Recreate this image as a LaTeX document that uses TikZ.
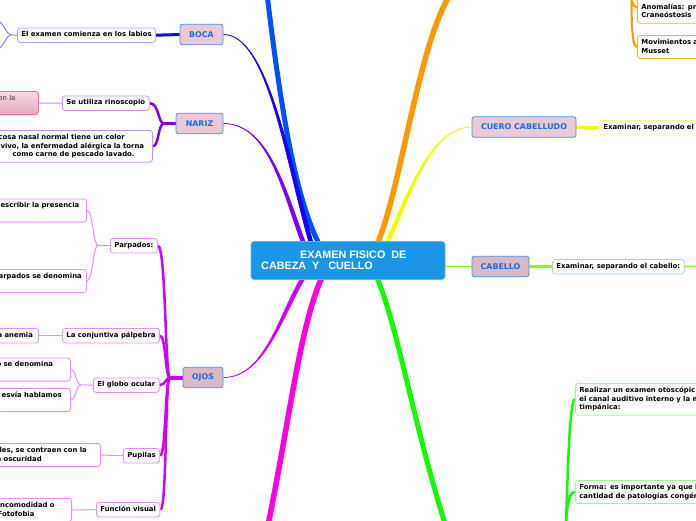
\documentclass[tikz,border=0pt]{standalone}
\usepackage{fontspec}
\newfontfamily\dejavu{DejaVu Sans}
\newfontfamily\libsans{Liberation Sans}
\usetikzlibrary{calc}
\pgfdeclarelayer{bg}
\pgfsetlayers{bg,main}
\definecolor{cRoot}{RGB}{27,149,230}
\definecolor{cPinkA}{RGB}{234,201,214}
\definecolor{cPinkB}{RGB}{219,185,196}
\definecolor{cMainBorder}{RGB}{74,144,226}
\definecolor{cMainText}{RGB}{26,110,224}
\definecolor{cBoca}{RGB}{24,0,255}
\definecolor{cBlueB}{RGB}{0,80,255}
\definecolor{cNariz}{RGB}{122,0,255}
\definecolor{cOjos}{RGB}{204,0,255}
\definecolor{cMag}{RGB}{255,0,221}
\definecolor{cGreen}{RGB}{20,250,0}
\definecolor{cOrange}{RGB}{255,153,0}
\definecolor{cYellow}{RGB}{240,255,0}
\definecolor{cLime}{RGB}{128,255,32}
\definecolor{cBocaL}{RGB}{176,160,255}
\definecolor{cNarizL}{RGB}{200,140,255}
\definecolor{cOjosL}{RGB}{232,140,255}
\definecolor{cYellowL}{RGB}{255,255,140}
\definecolor{cCabL}{RGB}{168,200,248}
\definecolor{cOrangeL}{RGB}{255,176,48}
\definecolor{cGreenL}{RGB}{150,255,150}
\definecolor{cPinkBorder}{RGB}{240,110,150}
\definecolor{cPinkTop}{RGB}{248,216,228}
\definecolor{cPinkBot}{RGB}{228,168,190}
\newcommand{\mmtaper}[6]{%
  \fill[#1, draw=#1, line width=0.8pt] #2 .. controls #3 and ($#4+(-#6,0)$) .. ($#5+(-#6,0)$) -- ($#5+(#6,0)$) .. controls ($#4+(#6,0)$) and #3 .. #2 -- cycle;}
\tikzset{
  mainbox/.style={draw=cMainBorder, line width=0.8pt, rounded corners=2.5pt, fill=cPinkA,
    text=cMainText, font=\dejavu\bfseries\fontsize{7.9}{9.5}\selectfont,
    minimum height=20.5pt, inner sep=0pt},
  smallbox/.style={rounded corners=3pt, fill=white, line width=0.8pt,
    font=\dejavu\bfseries\fontsize{6.9}{8.6}\selectfont, inner xsep=4pt, inner ysep=3pt,
    execute at begin node=\strut, execute at end node=\strut},
  roottext/.style={text=white, font=\libsans\bfseries\fontsize{10.8}{12}\selectfont, inner sep=0pt},
  thinlink/.style={line width=1pt},
}
\begin{document}
\begin{tikzpicture}[x=1pt,y=-1pt]
\useasboundingbox (0,0) rectangle (696,520);
% central node
\node[fill=cRoot, draw=cRoot!70!white, line width=0.6pt, rounded corners=3pt,
  minimum width=194pt, minimum height=38pt, inner sep=0pt] (root) at (348,260.5) {};
\node[roottext, anchor=base west] (rootA) at (300,258) {EXAMEN FISICO\ \ DE};
\node[roottext, anchor=base west] (rootB) at (261,269) {CABEZA\ \ Y\ \ \ CUELLO};
% main topics
\node[mainbox, minimum width=43pt] (boca) at (201.5,34.5) {BOCA};
\node[mainbox, minimum width=47pt] (nariz) at (199.5,123.5) {NARIZ};
\node[mainbox, minimum width=40pt, fill=cPinkB] (ojos) at (203,377.5) {OJOS};
\node[mainbox, minimum width=104pt] (cuero) at (524,127) {CUERO CABELLUDO};
\node[mainbox, minimum width=57pt, fill=cPinkB] (cabello) at (500.5,266.5) {CABELLO};
% BOCA
\node[smallbox, draw=cBocaL, anchor=north west] (boca1) at (17,27.5) {El examen comienza en los labios};
% NARIZ
\node[smallbox, draw=cNarizL, anchor=north west] (nar1) at (62,95.5) {Se utiliza rinoscopio};
\node[smallbox, draw=cPinkBorder, top color=cPinkTop, bottom color=cPinkBot, anchor=north east,
  text width=40pt, align=left, font=\dejavu\fontsize{6.9}{8.6}\selectfont, text=black!80] (nar0) at (39,91) {con la\\\mbox{}};
\node[smallbox, draw=cNarizL, anchor=north east, text width=150pt, align=left] (nar2) at (153,130)
  {\mbox{cosa nasal normal tiene un color}\\\mbox{\hspace*{2pt}vivo, la enfermedad alérgica la torna}\\\mbox{\hspace*{14pt}como carne de pescado lavado.}};
% OJOS
\node[smallbox, draw=cOjosL, anchor=north west] (parp) at (110,238) {Parpados:};
\node[smallbox, draw=cOjosL, anchor=north east, text width=87pt, align=left] (parp1) at (87,198.5) {describir la presencia\\\mbox{}};
\node[smallbox, draw=cOjosL, anchor=north east, text width=84pt, align=left] (parp2) at (87,269) {arpados se denomina\\\mbox{}};
\node[smallbox, draw=cOjosL, anchor=north west] (conj) at (62,328) {La conjuntiva pálpebra};
\node[smallbox, draw=cOjosL, anchor=north east, text width=37pt, align=left] (conj1) at (39,328) {a anemia};
\node[smallbox, draw=cOjosL, anchor=north west] (globo) at (93,377.5) {El globo ocular};
\node[smallbox, draw=cOjosL, anchor=north east, text width=70pt, align=left] (globo1) at (71,357.5) {o se denomina\\\mbox{}};
\node[smallbox, draw=cOjosL, anchor=north east, text width=65pt, align=left] (globo2) at (71,388) {esvía hablamos\\\mbox{}};
\node[smallbox, draw=cOjosL, anchor=north west] (pup) at (123,448) {Pupilas};
\node[smallbox, draw=cOjosL, anchor=north east, text width=100pt, align=left] (pup1) at (101,443) {\hspace*{3pt}les, se contraen con la\\a oscuridad};
\node[smallbox, draw=cOjosL, anchor=north west] (func) at (96,502) {Función visual};
\node[smallbox, draw=cOjosL, anchor=north east, text width=70pt, align=left] (func1) at (72,498) {Incomodidad o\\Fotofobia};
% right side
\node[smallbox, draw=cYellowL, anchor=north west, text width=120pt, align=left] (cuero1) at (599,120) {Examinar, separando el};
\node[smallbox, draw=cCabL, anchor=north west] (cab1) at (552,259) {Examinar, separando el cabello:};
\node[smallbox, draw=cOrangeL, anchor=north west, text width=100pt, align=left] (or1) at (637,-9) {\mbox{}\\Anomalías: pr\\Craneóstosis};
\node[smallbox, draw=cOrangeL, anchor=north west, text width=100pt, align=left] (or2) at (637,35) {Movimientos a\\Musset};
\node[smallbox, draw=cGreenL, anchor=north west, text width=140pt, align=left] (gr1) at (575,383) {Realizar un examen otoscópic\\el canal auditivo interno y la m\\timpánica:};
\node[smallbox, draw=cGreenL, anchor=north west, text width=140pt, align=left] (gr2) at (575,480) {Forma: es importante ya que l\\cantidad de patologías congén};
% coordinates
\coordinate (rBoca) at ($(root.north)+(-35,8.5)$);
\coordinate (rTop) at ($(root.north)+(-25,10)$);
\coordinate (rNariz) at ($(root.north)+(-42,8.5)$);
\coordinate (rOjos) at ($(root.south)+(-40,-9)$);
\coordinate (rMag) at ($(root.south)+(-23,-9)$);
\coordinate (rGreen) at ($(root.south)+(26,-9)$);
\coordinate (rOrange) at ($(root.north)+(26,10)$);
\coordinate (rYellow) at ($(root.north)+(36,10)$);
\coordinate (topBlue) at (267,-6);
\coordinate (magOut) at (267,530);
\coordinate (greenOut) at (447,530);
\coordinate (orangeOut) at (452,-8);
\coordinate (narB) at (164,123.5);
\coordinate (ojB) at (170,377.5);
\coordinate (parpB) at (98,245.3);
\coordinate (globoB) at (81,384.8);
\coordinate (bocaB) at (11,34.8);
\coordinate (bocaOut1) at (-2,21);
\coordinate (bocaOut2) at (-2,49);
\coordinate (cabOut) at (700,266.3);
\coordinate (orTop) at (631.5,-10);
\coordinate (grBot) at (566,525);
\begin{pgfonlayer}{bg}
  % root branches
  \draw[cBlueB, line width=5pt] (topBlue) .. controls (281,110) and (296,205) .. (rTop);
  \mmtaper{cBoca}{(boca.east)}{(268,34.5)}{(287,160)}{(rBoca)}{2}
  \mmtaper{cNariz}{(nariz.east)}{(270,123.5)}{(285,195)}{(rNariz)}{2}
  \mmtaper{cOjos}{(ojos.east)}{(268,377.5)}{(283,305)}{(rOjos)}{2.2}
  \mmtaper{cYellow}{(cuero.west)}{(432,127)}{(410,190)}{(rYellow)}{2}
  \draw[cMag, line width=5.5pt] (rMag) .. controls (300,320) and (290,420) .. (magOut);
  \draw[cGreen, line width=5pt] (rGreen) .. controls (397,320) and (412,420) .. (greenOut);
  \draw[cOrange, line width=5.5pt] (rOrange) .. controls (400,200) and (418,40) .. (orangeOut);
  \draw[cLime, line width=1.6pt] (cabello.west) -- (cabello.west -| root.east);
  % BOCA
  \draw[cBoca, line width=3pt] (boca.west) -- (boca1.east);
  \draw[cBocaL!80!blue, thinlink] (boca1.west) -- (bocaB) .. controls (6,34.8) and (5,24) .. (bocaOut1);
  \draw[cBocaL!80!blue, thinlink] (bocaB) .. controls (6,34.8) and (5,46) .. (bocaOut2);
  % NARIZ
  \draw[cNariz, line width=3.5pt] (nariz.west) -- (narB);
  \draw[cNariz, line width=2.5pt] (narB) .. controls (158,123.5) and (159,102.8) .. (nar1.east);
  \draw[cNariz, line width=2.5pt] (narB) .. controls (158,123.5) and (159,146) .. (nar2.east);
  \draw[cNarizL, thinlink] (nar1.west) -- (nar0.east);
  % OJOS
  \draw[cOjos, line width=4pt] (ojos.west) -- (ojB);
  \draw[cOjos, line width=2.5pt] (ojB) .. controls (165,377.5) and (166,245.3) .. (parp.east);
  \draw[cOjos, line width=2.5pt] (ojB) .. controls (165,377.5) and (166,335.3) .. (conj.east);
  \draw[cOjos, line width=2.5pt] (ojB) .. controls (166,377.5) and (166,384.8) .. (globo.east);
  \draw[cOjos, line width=2.5pt] (ojB) .. controls (165,377.5) and (166,455.3) .. (pup.east);
  \draw[cOjos, line width=2.5pt] (ojB) .. controls (165,377.5) and (167,509.3) .. (func.east);
  \draw[cOjosL, thinlink] (parp.west) -- (parpB) .. controls (93,245.3) and (93,210.1) .. (parp1.east);
  \draw[cOjosL, thinlink] (parpB) .. controls (93,245.3) and (93,280.6) .. (parp2.east);
  \draw[cOjosL, thinlink] (conj.west) -- (conj1.east);
  \draw[cOjosL, thinlink] (globo.west) -- (globoB) .. controls (76,384.8) and (76,369.1) .. (globo1.east);
  \draw[cOjosL, thinlink] (globoB) .. controls (76,384.8) and (76,399.6) .. (globo2.east);
  \draw[cOjosL, thinlink] (pup.west) -- (pup1.east);
  \draw[cOjosL, thinlink] (func.west) -- (func1.east);
  % right side
  \draw[cYellow, line width=3pt] (cuero.east) -- (cuero1.west);
  \draw[cLime, line width=3pt] (cabello.east) -- (cab1.west);
  \draw[cLime, line width=1.6pt] (cab1.east) -- (cabOut);
  \draw[cOrange, line width=2pt] (orTop) .. controls (631.5,25) and (632,46.6) .. (or2.west);
  \draw[cOrange, line width=2pt] (orTop) .. controls (631.5,0) and (632,6.9) .. (or1.west);
  \draw[cGreen, line width=2.5pt] (grBot) .. controls (568,460) and (570,398.9) .. (gr1.west);
  \draw[cGreen, line width=2.5pt] (grBot) .. controls (567,505) and (569,491.6) .. (gr2.west);
\end{pgfonlayer}
\end{tikzpicture}
\end{document}
